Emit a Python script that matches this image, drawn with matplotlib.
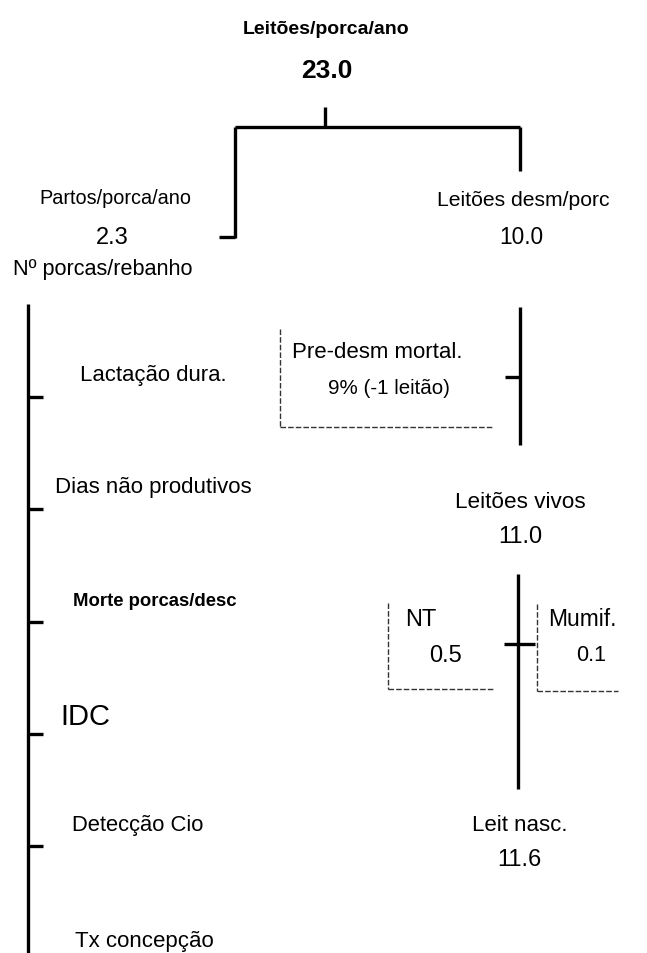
import matplotlib
matplotlib.use("Agg")
import matplotlib.pyplot as plt

# ---- data ----
top_label = "Leitões/porca/ano"
top_value = "23.0"
branch_labels = ["Partos/porca/ano", "Leitões desm/porc"]
branch_values = ["2.3", "10.0"]
herd_label = "Nº porcas/rebanho"
left_factors = ["Lactação dura.", "Dias não produtivos", "Morte porcas/desc",
                "IDC", "Detecção Cio", "Tx concepção"]
predesm_label = "Pre-desm mortal."
predesm_value = "9% (-1 leitão)"
vivos_label = "Leitões vivos"
vivos_value = "11.0"
loss_labels = ["NT", "Mumif."]
loss_values = ["0.5", "0.1"]
nasc_label = "Leit nasc."
nasc_value = "11.6"

plt.rcParams['font.family'] = ['Liberation Sans', 'DejaVu Sans']

W, H = 647, 954
fig = plt.figure(figsize=(W / 100, H / 100), dpi=100)
ax = fig.add_axes([0, 0, 1, 1])
ax.set_xlim(0, W)
ax.set_ylim(H, 0)
ax.axis('off')

K = 'black'
LW = 2.4

def line(xs, ys, lw=LW, **kw):
    ax.plot(xs, ys, color=K, lw=lw, solid_capstyle='butt', **kw)

def dash(xs, ys):
    ax.plot(xs, ys, color='#333333', lw=1.0, ls=(0, (4, 1.5)))

def txt(x, y, s, size=12, weight='normal', ha='center'):
    ax.text(x, y, s, fontsize=size, fontweight=weight, ha=ha, va='center', color=K)

# top
txt(326, 29, top_label, size=14, weight='bold')
txt(327, 71, top_value, size=19, weight='bold')
line([325, 325], [108, 128])
line([235, 520], [128, 128])
line([235, 235], [128, 239])
line([219, 235], [238, 238])
line([520, 520], [128, 172])

# branches
txt(115, 198, branch_labels[0], size=14.3)
txt(112, 238, branch_values[0], size=17)
txt(103, 270, herd_label, size=15.6)
txt(523, 200, branch_labels[1], size=15.2)
txt(521, 238, branch_values[1], size=16.3)

# left factor column
line([28, 28], [305, 954])
tick_y = [398, 510, 623, 735, 847]
for y in tick_y:
    line([28, 43], [y, y])
lab_pos = [(80, 376, 15.9, 'normal'), (55, 488, 16, 'normal'),
           (73, 602, 13.3, 'bold'), (60, 717, 21, 'normal'),
           (72, 826, 15.8, 'normal'), (75, 942, 16, 'normal')]
for lab, (x, y, s, w) in zip(left_factors, lab_pos):
    txt(x, y, lab, size=s, weight=w, ha='left')

# right: desm -> vivos
line([520, 520], [308, 446])
line([505, 520], [378, 378])
dash([280, 280], [330, 428])
dash([280, 492], [428, 428])
txt(292, 353, predesm_label, size=16, ha='left')
txt(328, 389, predesm_value, size=14.8, ha='left')

txt(520, 503, vivos_label, size=16.2)
txt(520, 537, vivos_value, size=17)

# vivos -> nasc
line([518, 518], [575, 790])
line([504, 535], [645, 645])
dash([388, 388], [604, 690])
dash([388, 493], [690, 690])
dash([537, 537], [605, 692])
dash([537, 618], [692, 692])
txt(405, 620, loss_labels[0], size=17, ha='left')
txt(446, 656, loss_values[0], size=17)
txt(548, 620, loss_labels[1], size=16.4, ha='left')
txt(591, 656, loss_values[1], size=15.5)

txt(520, 826, nasc_label, size=16)
txt(519, 860, nasc_value, size=17)

fig.savefig('out.png', dpi=100, facecolor='white')
